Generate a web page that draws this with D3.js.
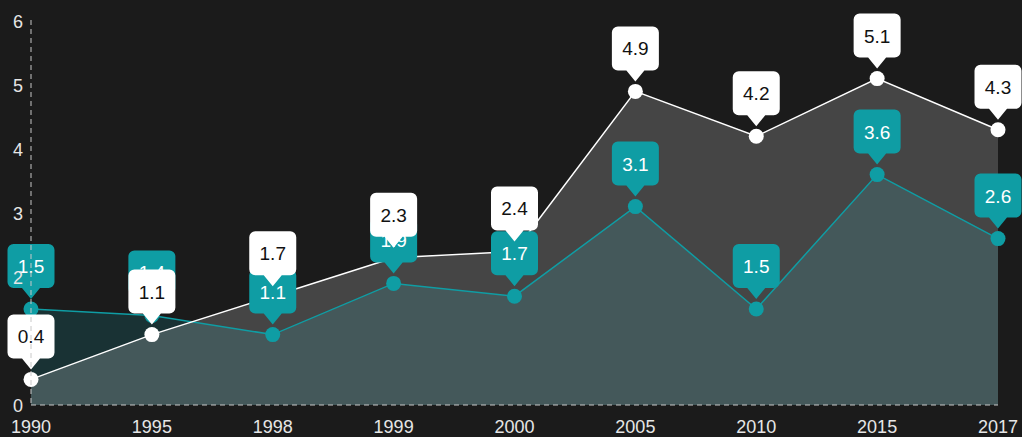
<!DOCTYPE html>
<html>
<head>
<meta charset="utf-8">
<style>
    html, body { margin: 0; padding: 0; background: #1b1b1b; }
    svg { display: block; font-family: "Liberation Sans", Arial, sans-serif; }
</style>
<script src="https://cdn.jsdelivr.net/npm/d3@7"></script>
</head>
<body>
<svg width="1022" height="437"></svg>
<script>
"use strict";

var years = ["1990", "1995", "1998", "1999", "2000", "2005", "2010", "2015", "2017"];
var whiteValues = [0.4, 1.1, 1.7, 2.3, 2.4, 4.9, 4.2, 5.1, 4.3];
var tealValues = [1.5, 1.4, 1.1, 1.9, 1.7, 3.1, 1.5, 3.6, 2.6];
var yTicks = [0, 2, 3, 4, 5, 6];

var teal = "#0f9da4";
var svg = d3.select("svg");

var xScale = d3.scalePoint()
    .domain(years)
    .range([31, 998]);
var yScale = d3.scaleLinear()
    .domain([0, 6])
    .range([405, 21]);

var area = function (values) {
    return d3.area()
        .x(function (d, i) { return xScale(years[i]); })
        .y0(yScale(0))
        .y1(function (d) { return yScale(d); })(values);
};
var line = function (values) {
    return d3.line()
        .x(function (d, i) { return xScale(years[i]); })
        .y(function (d) { return yScale(d); })(values);
};

// areas: teal underneath, translucent white on top
svg.append("path").attr("d", area(tealValues))
    .attr("fill", teal).attr("fill-opacity", 0.18);
svg.append("path").attr("d", area(whiteValues))
    .attr("fill", "#fff").attr("fill-opacity", 0.19);

svg.append("path").attr("d", line(tealValues))
    .attr("fill", "none").attr("stroke", teal).attr("stroke-width", 1.5);
svg.append("path").attr("d", line(whiteValues))
    .attr("fill", "none").attr("stroke", "#fff").attr("stroke-width", 1.5);

var drawPoints = function (values, color) {
    svg.append("g").selectAll("circle")
        .data(values)
        .join("circle")
        .attr("cx", function (d, i) { return xScale(years[i]); })
        .attr("cy", function (d) { return yScale(d); })
        .attr("r", 7.5)
        .attr("fill", color);
};
drawPoints(tealValues, teal);
drawPoints(whiteValues, "#fff");

// callout bubble shape, relative to point centre
var bubble = (function () {
    var w = 23.5, top = -65, bottom = -21, r = 6;
    var p = d3.path();
    p.moveTo(-w + r, top);
    p.lineTo(w - r, top);
    p.arcTo(w, top, w, top + r, r);
    p.lineTo(w, bottom - r);
    p.arcTo(w, bottom, w - r, bottom, r);
    p.lineTo(9, bottom);
    p.lineTo(0, -10);
    p.lineTo(-9, bottom);
    p.lineTo(-w + r, bottom);
    p.arcTo(-w, bottom, -w, bottom - r, r);
    p.lineTo(-w, top + r);
    p.arcTo(-w, top, -w + r, top, r);
    p.closePath();
    return p.toString();
}());

var drawLabels = function (values, boxColor, textColor) {
    var g = svg.append("g").selectAll("g")
        .data(values)
        .join("g")
        .attr("transform", function (d, i) {
            return "translate(" + xScale(years[i]) + "," + yScale(d) + ")";
        });
    g.append("path").attr("d", bubble).attr("fill", boxColor);
    g.append("text")
        .attr("y", -36)
        .attr("text-anchor", "middle")
        .attr("font-size", 19)
        .attr("fill", textColor)
        .text(function (d) { return d.toFixed(1); });
};
drawLabels(tealValues, teal, "#fff");
drawLabels(whiteValues, "#fff", "#111");

// axes
svg.append("line")
    .attr("x1", 31).attr("x2", 31)
    .attr("y1", 20).attr("y2", yScale(0))
    .attr("stroke", "#c8c8c8").attr("stroke-dasharray", "5,4");
svg.append("line")
    .attr("x1", 31).attr("x2", xScale("2017"))
    .attr("y1", yScale(0)).attr("y2", yScale(0))
    .attr("stroke", "#c8c8c8").attr("stroke-dasharray", "5,4");

svg.append("g").selectAll("text")
    .data(yTicks)
    .join("text")
    .attr("x", 23)
    .attr("y", function (d) { return yScale(d) + 7; })
    .attr("text-anchor", "end")
    .attr("font-size", 18)
    .attr("fill", "#e6e6e6")
    .text(function (d) { return d; });

svg.append("g").selectAll("text")
    .data(years)
    .join("text")
    .attr("x", function (d) { return xScale(d); })
    .attr("y", 433)
    .attr("text-anchor", "middle")
    .attr("font-size", 18)
    .attr("fill", "#e6e6e6")
    .text(function (d) { return d; });
</script>
</body>
</html>
